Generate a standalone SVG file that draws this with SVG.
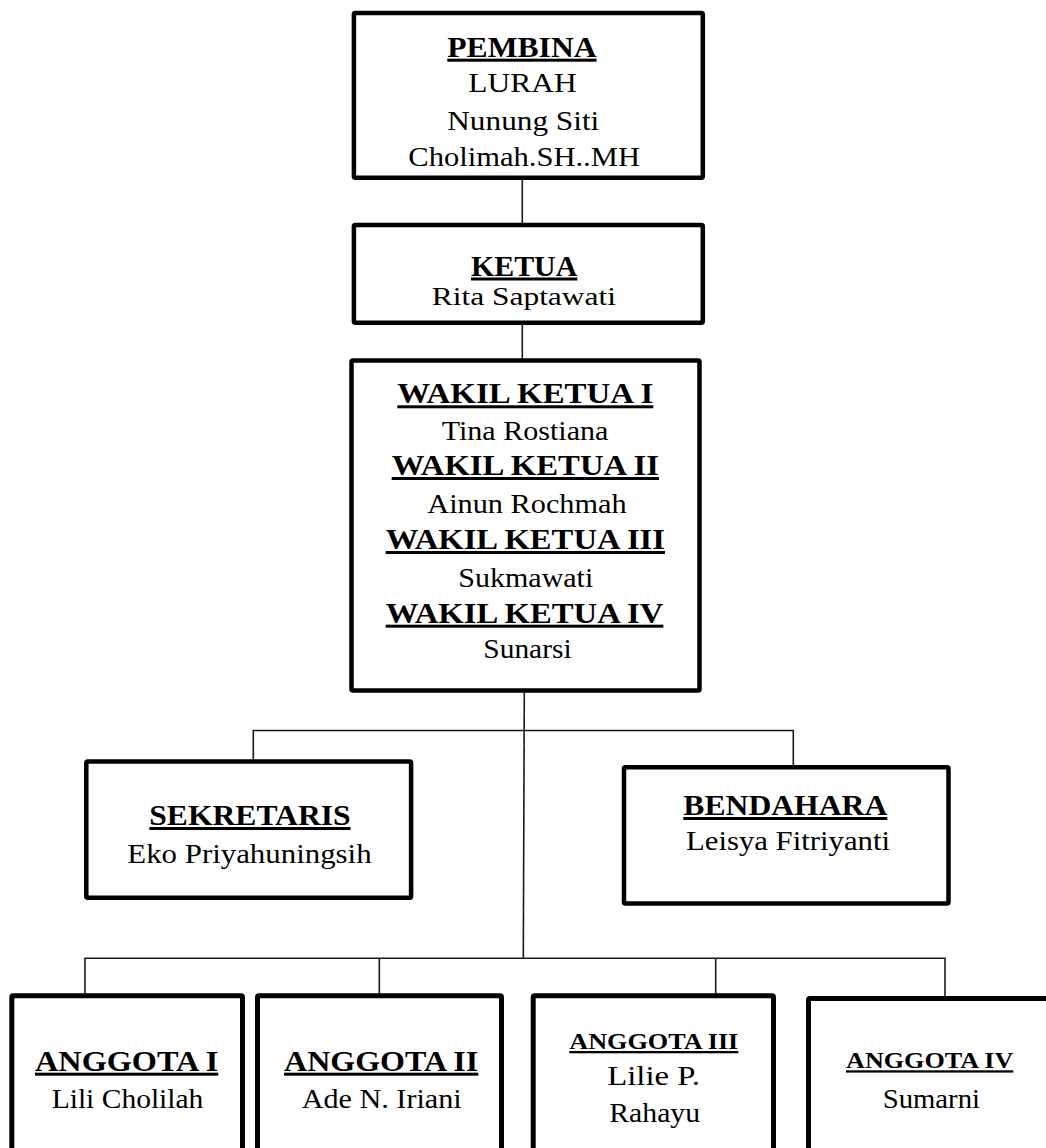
<svg xmlns="http://www.w3.org/2000/svg" width="1046" height="1148" viewBox="0 0 1046 1148">
<style>
  .box { fill: #ffffff; stroke: #000000; stroke-width: 4.5; }
  .boxb { fill: #ffffff; stroke: #000000; stroke-width: 5; }
  .conn { fill: none; stroke: #1a1a1a; stroke-width: 1.6; }
  text { font-family: "Liberation Serif", "Times New Roman", serif; fill: #000000; }
  .h { font-weight: bold; font-size: 30px; text-decoration: underline; }
  .hs { font-weight: bold; font-size: 23px; text-decoration: underline; }
  .n { font-size: 28px; }
  .ns { font-size: 26px; }
</style>
<rect width="1046" height="1148" fill="#ffffff"/>
<g id="connectors">
  <line class="conn" x1="522.3" y1="180" x2="522.3" y2="223"/>
  <line class="conn" x1="522.3" y1="325" x2="522.3" y2="358.5"/>
  <line class="conn" x1="524.3" y1="692" x2="523.3" y2="958.3"/>
  <polyline class="conn" points="253.3,760 253.3,730.5 793.3,730.5 793.3,765"/>
  <polyline class="conn" points="85,993.5 85,958.3 945,958.3 945,996.5"/>
  <line class="conn" x1="379.3" y1="958.3" x2="379.3" y2="993.5"/>
  <line class="conn" x1="715.7" y1="958.3" x2="715.7" y2="993.5"/>
</g>
<g id="pembina">
  <rect class="box" x="353.9" y="12.9" width="348.9" height="164.9" rx="1.5"/>
  <text class="h" x="447.3" y="56.7" textLength="149.3" lengthAdjust="spacingAndGlyphs">PEMBINA</text>
  <text class="n" x="468.3" y="91.7" textLength="108.3" lengthAdjust="spacingAndGlyphs">LURAH</text>
  <text class="n" x="447.3" y="130" textLength="152" lengthAdjust="spacingAndGlyphs">Nunung Siti</text>
  <text class="n" x="408.3" y="165.7" textLength="231.7" lengthAdjust="spacingAndGlyphs">Cholimah.SH..MH</text>
</g>
<g id="ketua">
  <rect class="box" x="353.9" y="224.9" width="348.9" height="97.9" rx="1.5"/>
  <text class="h" x="471" y="275.5" textLength="106.3" lengthAdjust="spacingAndGlyphs">KETUA</text>
  <text class="ns" x="431.7" y="305" textLength="184.3" lengthAdjust="spacingAndGlyphs">Rita Saptawati</text>
</g>
<g id="wakil">
  <rect class="box" x="351.5" y="360.5" width="348" height="330" rx="1.5"/>
  <text class="h" x="397.3" y="403.3" textLength="256" lengthAdjust="spacingAndGlyphs">WAKIL KETUA I</text>
  <text class="n" x="441.7" y="440" textLength="166.7" lengthAdjust="spacingAndGlyphs">Tina Rostiana</text>
  <text class="h" x="391.7" y="475" textLength="267.3" lengthAdjust="spacingAndGlyphs">WAKIL KETUA II</text>
  <text class="n" x="427.3" y="513.3" textLength="199.3" lengthAdjust="spacingAndGlyphs">Ainun Rochmah</text>
  <text class="h" x="385.7" y="549" textLength="279.3" lengthAdjust="spacingAndGlyphs">WAKIL KETUA III</text>
  <text class="n" x="458.3" y="586.7" textLength="135" lengthAdjust="spacingAndGlyphs">Sukmawati</text>
  <text class="h" x="385.7" y="622.7" textLength="277.7" lengthAdjust="spacingAndGlyphs">WAKIL KETUA IV</text>
  <text class="n" x="483.3" y="658.3" textLength="88.3" lengthAdjust="spacingAndGlyphs">Sunarsi</text>
</g>
<g id="sekretaris">
  <rect class="box" x="86.3" y="761.5" width="324.8" height="136.3" rx="1.5"/>
  <text class="h" x="149.3" y="825" textLength="201.3" lengthAdjust="spacingAndGlyphs">SEKRETARIS</text>
  <text class="n" x="127.3" y="863.3" textLength="244.3" lengthAdjust="spacingAndGlyphs">Eko Priyahuningsih</text>
</g>
<g id="bendahara">
  <rect class="box" x="624" y="767.3" width="324.5" height="136.2" rx="1.5"/>
  <text class="h" x="683.3" y="815" textLength="204" lengthAdjust="spacingAndGlyphs">BENDAHARA</text>
  <text class="n" x="686" y="850" textLength="204" lengthAdjust="spacingAndGlyphs">Leisya Fitriyanti</text>
</g>
<g id="anggota1">
  <rect class="boxb" x="11.8" y="995.8" width="230.7" height="200" rx="1.5"/>
  <text class="h" x="35" y="1070.7" textLength="183.3" lengthAdjust="spacingAndGlyphs">ANGGOTA I</text>
  <text class="n" x="51.7" y="1108.3" textLength="151.7" lengthAdjust="spacingAndGlyphs">Lili Cholilah</text>
</g>
<g id="anggota2">
  <rect class="boxb" x="257.5" y="995.8" width="244" height="200" rx="1.5"/>
  <text class="h" x="284" y="1070.7" textLength="194.3" lengthAdjust="spacingAndGlyphs">ANGGOTA II</text>
  <text class="n" x="301.7" y="1108.3" textLength="160" lengthAdjust="spacingAndGlyphs">Ade N. Iriani</text>
</g>
<g id="anggota3">
  <rect class="boxb" x="533.2" y="995.8" width="240.3" height="200" rx="1.5"/>
  <text class="hs" x="569.3" y="1049" textLength="169" lengthAdjust="spacingAndGlyphs">ANGGOTA III</text>
  <text class="n" x="607.3" y="1085" textLength="92.7" lengthAdjust="spacingAndGlyphs">Lilie P.</text>
  <text class="n" x="609.3" y="1121.7" textLength="90.7" lengthAdjust="spacingAndGlyphs">Rahayu</text>
</g>
<g id="anggota4">
  <rect class="boxb" x="808.5" y="998.5" width="300" height="200" rx="1.5"/>
  <text class="hs" x="846" y="1068.3" textLength="167.3" lengthAdjust="spacingAndGlyphs">ANGGOTA IV</text>
  <text class="n" x="882.7" y="1108.3" textLength="97.3" lengthAdjust="spacingAndGlyphs">Sumarni</text>
</g>
</svg>
